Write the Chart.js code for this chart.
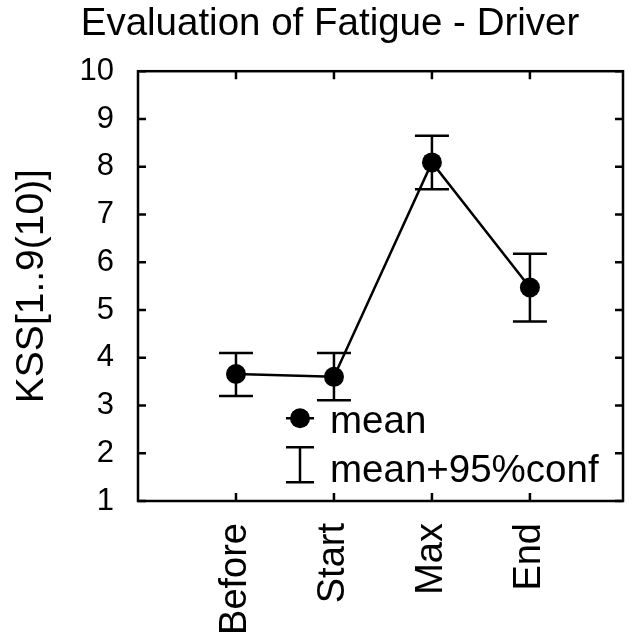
<!DOCTYPE html>
<html>
<head>
<meta charset="utf-8">
<script src="https://cdn.jsdelivr.net/npm/chart.js@4.4.1/dist/chart.umd.min.js"></script>
<style>
  html, body { margin: 0; padding: 0; background: #fff; }
</style>
</head>
<body>
<canvas id="myChart" width="633" height="637"></canvas>
<script>
// KSS sleepiness ratings for the driver, four phases
const categories = ['Before', 'Start', 'Max', 'End']
const means = [3.66, 3.60, 8.09, 5.47]
const confLow = [3.20, 3.11, 7.53, 4.76]
const confHigh = [4.10, 4.10, 8.65, 6.18]
const yTicks = [1, 2, 3, 4, 5, 6, 7, 8, 9, 10]
const legendLabels = ['mean', 'mean+95%conf']

const FONT = "'Liberation Sans', Arial, sans-serif"

// box around the plot with ticks pointing inward on all four sides
const framePlugin = {
    id: 'frame',
    afterDatasetsDraw(chart) {
        const {ctx, chartArea: a, scales: {x, y}} = chart
        const tl = 8
        ctx.save()
        ctx.strokeStyle = '#000'
        ctx.lineWidth = 2.5
        ctx.strokeRect(a.left, a.top, a.right - a.left, a.bottom - a.top)
        ctx.beginPath()
        x.ticks.forEach(t => {
            const px = x.getPixelForValue(t.value)
            ctx.moveTo(px, a.bottom); ctx.lineTo(px, a.bottom - tl)
            ctx.moveTo(px, a.top); ctx.lineTo(px, a.top + tl)
        })
        y.ticks.forEach(t => {
            const py = y.getPixelForValue(t.value)
            ctx.moveTo(a.left, py); ctx.lineTo(a.left + tl, py)
            ctx.moveTo(a.right, py); ctx.lineTo(a.right - tl, py)
        })
        ctx.stroke()
        ctx.restore()
    }
}

// 95% confidence whiskers, drawn under the mean markers
const errorBarPlugin = {
    id: 'errorBars',
    beforeDatasetsDraw(chart) {
        const {ctx, scales: {x, y}} = chart
        const cap = 17
        ctx.save()
        ctx.strokeStyle = '#000'
        ctx.lineWidth = 2.5
        ctx.beginPath()
        categories.forEach((c, i) => {
            const px = x.getPixelForValue(i + 1)
            const lo = y.getPixelForValue(confLow[i])
            const hi = y.getPixelForValue(confHigh[i])
            ctx.moveTo(px, lo); ctx.lineTo(px, hi)
            ctx.moveTo(px - cap, lo); ctx.lineTo(px + cap, lo)
            ctx.moveTo(px - cap, hi); ctx.lineTo(px + cap, hi)
        })
        ctx.stroke()
        ctx.restore()
    }
}

// legend sits inside the plot, below the first two points
const legendPlugin = {
    id: 'innerLegend',
    afterDraw(chart) {
        const {ctx, chartArea: a} = chart
        const mx = a.left + 162
        const tx = a.left + 192
        const r1 = a.top + 347
        const r2 = a.top + 393.5
        ctx.save()
        ctx.strokeStyle = '#000'
        ctx.fillStyle = '#000'
        ctx.lineWidth = 2.5
        ctx.beginPath()
        ctx.moveTo(mx - 14, r1); ctx.lineTo(mx + 14, r1)
        ctx.moveTo(mx, r2 - 17.5); ctx.lineTo(mx, r2 + 17.5)
        ctx.moveTo(mx - 14, r2 - 17.5); ctx.lineTo(mx + 14, r2 - 17.5)
        ctx.moveTo(mx - 14, r2 + 17.5); ctx.lineTo(mx + 14, r2 + 17.5)
        ctx.stroke()
        ctx.beginPath()
        ctx.arc(mx, r1, 10, 0, Math.PI * 2)
        ctx.fill()
        ctx.font = '38.5px ' + FONT
        ctx.textAlign = 'left'
        ctx.textBaseline = 'alphabetic'
        ctx.fillText(legendLabels[0], tx, r1 + 15)
        ctx.fillText(legendLabels[1], tx, r2 + 17.5)
        ctx.restore()
    }
}

const ctx = document.getElementById('myChart').getContext('2d')
const myChart = new Chart(ctx, {
    type: 'line',
    data: {
        datasets: [{
            label: legendLabels[0],
            data: categories.map((c, i) => ({x: i + 1, y: means[i]})),
            borderColor: '#000',
            borderWidth: 2.5,
            pointRadius: 10,
            pointBackgroundColor: '#000',
            pointBorderColor: '#000',
            pointBorderWidth: 0,
            tension: 0,
            clip: false
        }]
    },
    options: {
        responsive: false,
        animation: false,
        events: [],
        layout: {
            padding: {left: 32, right: 5, top: 0, bottom: 0}
        },
        plugins: {
            legend: {display: false},
            tooltip: {enabled: false},
            title: {
                display: true,
                text: 'Evaluation of Fatigue - Driver',
                color: '#000',
                font: {family: FONT, size: 38.5, weight: 'normal', lineHeight: 1.2},
                padding: {top: 1, bottom: 24}
            }
        },
        scales: {
            x: {
                type: 'linear',
                min: 0,
                max: 4.95,
                afterBuildTicks: scale => {
                    scale.ticks = categories.map((c, i) => ({value: i + 1}))
                },
                afterFit: scale => { scale.height = 136 },
                grid: {display: false, drawTicks: false},
                border: {display: false},
                ticks: {
                    autoSkip: false,
                    minRotation: 90,
                    maxRotation: 90,
                    padding: 22,
                    color: '#000',
                    font: {family: FONT, size: 38},
                    callback: v => categories[v - 1] || ''
                }
            },
            y: {
                min: 1,
                max: 10,
                afterBuildTicks: scale => {
                    scale.ticks = yTicks.map(v => ({value: v}))
                },
                afterFit: scale => { scale.width = 106 },
                grid: {display: false, drawTicks: false},
                border: {display: false},
                ticks: {
                    padding: 24,
                    color: '#000',
                    font: {family: FONT, size: 31}
                },
                title: {
                    display: true,
                    text: 'KSS[1..9(10)]',
                    color: '#000',
                    font: {family: FONT, size: 39},
                    padding: {top: -23, bottom: 0}
                }
            }
        }
    },
    plugins: [framePlugin, errorBarPlugin, legendPlugin]
})
</script>
</body>
</html>
